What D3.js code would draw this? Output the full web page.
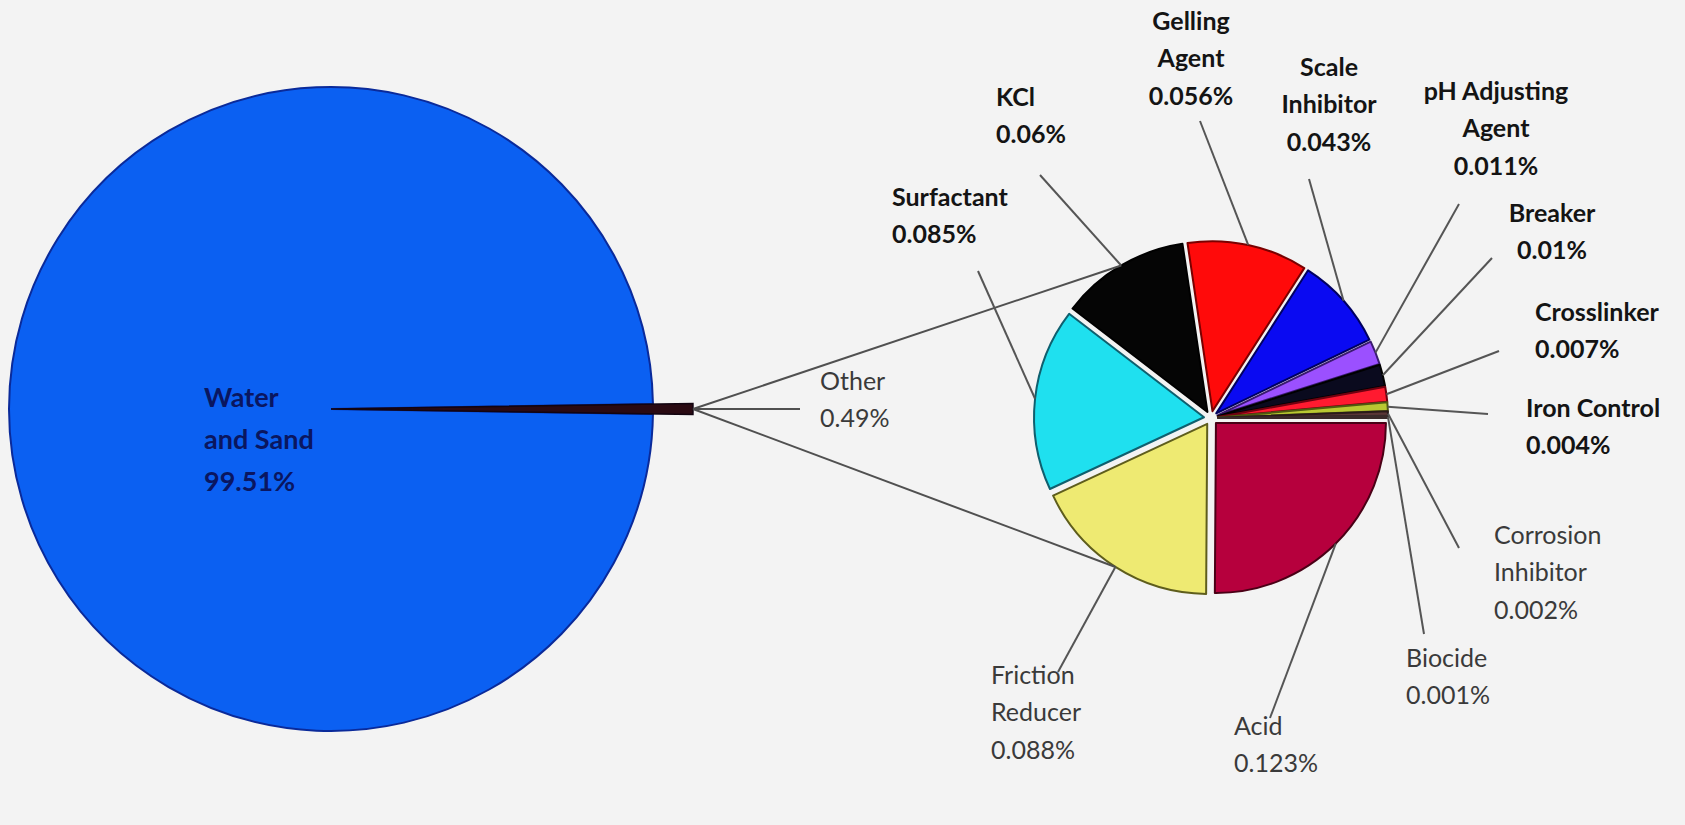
<!DOCTYPE html>
<html><head><meta charset="utf-8">
<script src="https://cdn.jsdelivr.net/npm/d3@7"></script>
<style>
html,body{margin:0;padding:0;background:#f3f3f3;}
svg{display:block;}
</style></head>
<body>
<svg id="chart" width="1685" height="825"></svg>
<script>
// ---------------- DATA ----------------
const mainCategories = ["Other", "Water and Sand"];
const mainValues = [0.49, 99.51];
const mainLabels = ["0.49%", "99.51%"];

const categories = ["Acid", "Friction Reducer", "Surfactant", "KCl", "Gelling Agent", "Scale Inhibitor",
  "pH Adjusting Agent", "Breaker", "Crosslinker", "Iron Control", "Corrosion Inhibitor", "Biocide"];
const values = [0.123, 0.088, 0.085, 0.06, 0.056, 0.043, 0.011, 0.01, 0.007, 0.004, 0.002, 0.001];
const valueLabels = ["0.123%", "0.088%", "0.085%", "0.06%", "0.056%", "0.043%", "0.011%", "0.01%",
  "0.007%", "0.004%", "0.002%", "0.001%"];
const nameLines = [["Acid"], ["Friction", "Reducer"], ["Surfactant"], ["KCl"], ["Gelling", "Agent"],
  ["Scale", "Inhibitor"], ["pH Adjusting", "Agent"], ["Breaker"], ["Crosslinker"], ["Iron Control"],
  ["Corrosion", "Inhibitor"], ["Biocide"]];

// ---------------- STYLE / LAYOUT ----------------
const fills = ["#b6003d", "#eeea72", "#1fe0ef", "#050505", "#ff0a0a", "#0a0af2",
  "#9b50ff", "#0a0a1e", "#ff1a30", "#b9c832", "#5a3636", "#8a6a6a"];
const strokes = ["#4a0016", "#5e5d1c", "#0f5f6e", "#000000", "#7a0000", "#000060",
  "#3a1a70", "#000000", "#700010", "#505a10", "#2a1a1a", "#3a2a2a"];
// label layout: x, first-line center y, anchor, bold, leader end (lx, ly)
const labelLayout = [
  {x:1234, y:726, a:"start",  b:false, lx:1270, ly:718},
  {x: 991, y:675, a:"start",  b:false, lx:1058, ly:672},
  {x: 892, y:197, a:"start",  b:true,  lx: 978, ly:271},
  {x: 996, y: 97, a:"start",  b:true,  lx:1040, ly:175},
  {x:1191, y: 21, a:"middle", b:true,  lx:1200, ly:121},
  {x:1329, y: 67, a:"middle", b:true,  lx:1309, ly:179},
  {x:1496, y: 91, a:"middle", b:true,  lx:1459, ly:204},
  {x:1552, y:213, a:"middle", b:true,  lx:1492, ly:258},
  {x:1535, y:312, a:"start",  b:true,  lx:1499, ly:351},
  {x:1526, y:408, a:"start",  b:true,  lx:1488, ly:414},
  {x:1494, y:535, a:"start",  b:false, lx:1459, ly:548},
  {x:1406, y:658, a:"start",  b:false, lx:1424, ly:634}
];
const lineH = 37.6;
const fontSize = 25;

const big = {cx:331, cy:409, r:322};
const small = {cx:1211, cy:418, r:170, explode:7};

const svg = d3.select("#chart");
const font = "Lato, 'Open Sans', sans-serif";

// ---------------- BIG PIE ----------------
const otherSpan = 2 * Math.PI * mainValues[0] / d3.sum(mainValues);
const mainPie = d3.pie().sort(null)
  .startAngle(Math.PI / 2 - otherSpan / 2)
  .endAngle(Math.PI / 2 - otherSpan / 2 + 2 * Math.PI)(mainValues);

const gBig = svg.append("g").attr("transform", `translate(${big.cx},${big.cy})`);
const bigArc = d3.arc().innerRadius(0).outerRadius(big.r);
gBig.append("path").attr("d", bigArc(mainPie[1]))
  .attr("fill", "#0b60f2").attr("stroke", "#0a2a9a").attr("stroke-width", 2);
const otherArc = d3.arc().innerRadius(0).outerRadius(big.r + 40);
gBig.append("path").attr("d", otherArc(mainPie[0]))
  .attr("fill", "#2a0a12").attr("stroke", "#120410").attr("stroke-width", 1.5);

// corner of the Other slice
const oEnd = big.r + 40;
const oTip = [big.cx + oEnd, big.cy];

// ---------------- SMALL PIE ----------------
const pie = d3.pie().sort(null).startAngle(Math.PI / 2).endAngle(Math.PI / 2 + 2 * Math.PI)(values);
const arc = d3.arc().innerRadius(0).outerRadius(small.r);
const gSmall = svg.append("g").attr("transform", `translate(${small.cx},${small.cy})`);

function polar(a, r) { return [Math.sin(a) * r, -Math.cos(a) * r]; }

// connectors from Other slice to small pie (to outer edge of KCl and Friction Reducer slices)
[3, 1].forEach(i => {
  const d = pie[i];
  const m = (d.startAngle + d.endAngle) / 2;
  const off = polar(m, small.explode);
  const p = polar(m, small.r);
  svg.append("line")
    .attr("x1", oTip[0]).attr("y1", oTip[1])
    .attr("x2", small.cx + off[0] + p[0]).attr("y2", small.cy + off[1] + p[1])
    .attr("stroke", "#505050").attr("stroke-width", 2);
});
// Other leader
svg.append("line").attr("x1", oTip[0]).attr("y1", oTip[1]).attr("x2", 800).attr("y2", oTip[1])
  .attr("stroke", "#505050").attr("stroke-width", 2);

gSmall.selectAll("path.slice").data(pie).join("path")
  .attr("class", "slice")
  .attr("transform", d => {
    const m = (d.startAngle + d.endAngle) / 2;
    const o = polar(m, small.explode);
    return `translate(${o[0]},${o[1]})`;
  })
  .attr("d", arc)
  .attr("fill", (d, i) => fills[i])
  .attr("stroke", (d, i) => strokes[i])
  .attr("stroke-width", 2)
  .attr("stroke-linejoin", "round");

// leader lines
pie.forEach((d, i) => {
  const m = (d.startAngle + d.endAngle) / 2;
  const p = polar(m, small.r + small.explode);
  const L = labelLayout[i];
  svg.append("line")
    .attr("x1", small.cx + p[0]).attr("y1", small.cy + p[1])
    .attr("x2", L.lx).attr("y2", L.ly)
    .attr("stroke", "#555").attr("stroke-width", 2);
});

// labels
categories.forEach((c, i) => {
  const L = labelLayout[i];
  const lines = nameLines[i].concat([valueLabels[i]]);
  const t = svg.append("text")
    .attr("font-family", font).attr("font-size", fontSize)
    .attr("font-weight", L.b ? 700 : 400)
    .attr("fill", L.b ? "#141414" : "#3a3a3a")
    .attr("text-anchor", L.a);
  lines.forEach((s, k) => {
    t.append("tspan").attr("x", L.x).attr("y", L.y + k * lineH).attr("dy", "0.35em").text(s);
  });
});

// Other label
const ot = svg.append("text").attr("font-family", font).attr("font-size", fontSize)
  .attr("fill", "#3a3a3a");
[mainCategories[0], mainLabels[0]].forEach((s, k) => {
  ot.append("tspan").attr("x", 820).attr("y", 381 + k * lineH).attr("dy", "0.35em").text(s);
});

// Water label
const wt = svg.append("text").attr("font-family", font).attr("font-size", 27)
  .attr("font-weight", 700).attr("fill", "#0a1660");
["Water", "and Sand", mainLabels[1]].forEach((s, k) => {
  wt.append("tspan").attr("x", 204).attr("y", 398 + k * 42).attr("dy", "0.35em").text(s);
});
</script>
</body></html>
